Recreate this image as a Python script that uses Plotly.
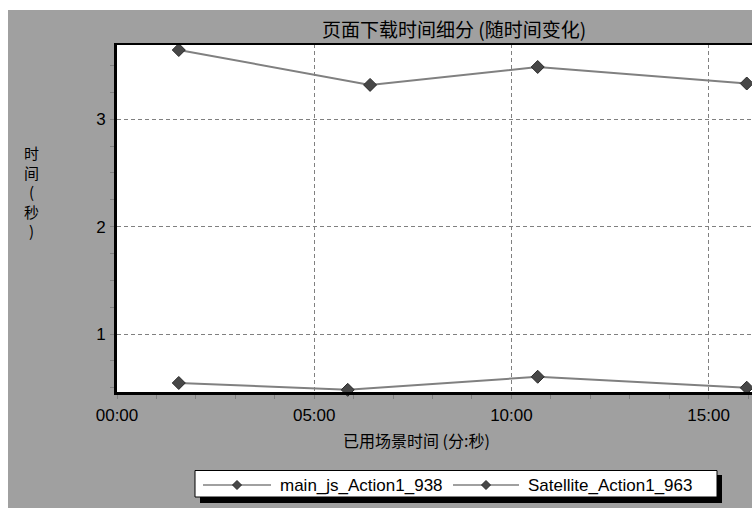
import plotly.graph_objects as go

# ---- data (time in seconds since scenario start, value in seconds) ----
series_names = ["main_js_Action1_938", "Satellite_Action1_963"]
main_js_time = [94, 385, 640, 958]
main_js_value = [3.645, 3.32, 3.487, 3.333]
satellite_time = [94, 351, 640, 958]
satellite_value = [0.544, 0.48, 0.602, 0.50]
x_tick_vals = [0, 300, 600, 900]
x_tick_text = ["00:00", "05:00", "10:00", "15:00"]
y_tick_vals = [1, 2, 3]

title_text = "页面下载时间细分 (随时间变化)"
x_title_text = "已用场景时间 (分:秒)"
y_title_text = "时<br>间<br>(<br>秒<br>)"

# figure placed at the page origin (body margin removed below)
W, H = 752, 508
L, R, T, B = 117, 752, 44, 392
BG = "#A0A0A0"
LINE = "#808080"
MARK = "#474747"
FONT = "Liberation Sans, Arial, sans-serif"
CJK = "Noto Sans CJK SC, sans-serif"


def px(x):
    """page x pixel -> paper fraction"""
    return (x - L) / (R - L)


def py(y):
    """page y pixel -> paper fraction"""
    return (B - y) / (B - T)


fig = go.Figure()
for name, xs, ys in [(series_names[0], main_js_time, main_js_value),
                     (series_names[1], satellite_time, satellite_value)]:
    fig.add_trace(go.Scatter(
        x=xs, y=ys, name=name, mode="lines+markers",
        line=dict(color=LINE, width=2),
        marker=dict(symbol="diamond", size=10, color=MARK,
                    line=dict(color="#2a2a2a", width=1)),
        showlegend=False, cliponaxis=False))

shapes = []
# white strips at top and left edge of the picture
shapes.append(dict(type="rect", xref="paper", yref="paper", x0=px(-5), x1=px(760),
                   y0=py(10), y1=py(-5), fillcolor="white", line_width=0, layer="below"))
shapes.append(dict(type="rect", xref="paper", yref="paper", x0=px(-5), x1=px(8),
                   y0=py(515), y1=py(-5), fillcolor="white", line_width=0, layer="below"))
# top border of plot area
shapes.append(dict(type="line", xref="paper", yref="paper", x0=px(114), x1=1,
                   y0=1, y1=1, line=dict(color="black", width=2)))

# manual legend: shadow, box, line samples, markers
shapes.append(dict(type="rect", xref="paper", yref="paper", x0=px(200), x1=px(722),
                   y0=py(503), y1=py(475), fillcolor="black", line_width=0))
shapes.append(dict(type="rect", xref="paper", yref="paper", x0=px(195), x1=px(717),
                   y0=py(497), y1=py(470.5), fillcolor="white",
                   line=dict(color="black", width=1)))
legend_items = [(203, 271, 237, 278), (453, 519, 486, 526)]
annotations = []
for (lx0, lx1, mx, tx), name in zip(legend_items, series_names):
    shapes.append(dict(type="line", xref="paper", yref="paper", x0=px(lx0), x1=px(lx1),
                       y0=py(485), y1=py(485), line=dict(color=LINE, width=1.5)))
    shapes.append(dict(type="path", xref="paper", yref="paper",
                       xsizemode="pixel", ysizemode="pixel",
                       xanchor=px(mx), yanchor=py(485),
                       path="M -4.5 0 L 0 4.5 L 4.5 0 L 0 -4.5 Z",
                       fillcolor=MARK, line=dict(color="#2a2a2a", width=1)))
    annotations.append(dict(text=name, xref="paper", yref="paper", x=px(tx), y=py(485),
                            xanchor="left", yanchor="middle", showarrow=False,
                            font=dict(family=FONT, size=17, color="black")))

# title
annotations.append(dict(text=title_text, xref="paper", yref="paper", x=px(454), y=py(28),
                        xanchor="center", yanchor="middle", showarrow=False,
                        font=dict(family=CJK, size=19, color="black")))
# x axis title
annotations.append(dict(text=x_title_text, xref="paper", yref="paper", x=px(416), y=py(440),
                        xanchor="center", yanchor="middle", showarrow=False,
                        font=dict(family=CJK, size=16, color="black")))
# y axis title (vertical, stacked characters)
annotations.append(dict(text=y_title_text, xref="paper", yref="paper", x=px(31), y=py(191),
                        xanchor="center", yanchor="middle", showarrow=False,
                        font=dict(family=CJK, size=15, color="black")))

fig.update_layout(
    width=W, height=H,
    margin=dict(l=L, r=W - R, t=T, b=H - B, pad=0),
    paper_bgcolor=BG, plot_bgcolor="white",
    shapes=shapes, annotations=annotations,
    showlegend=False,
    xaxis=dict(range=[0, 966], tickmode="array", tickvals=x_tick_vals, ticktext=x_tick_text,
               showline=True, linecolor="black", linewidth=3,
               ticks="outside", ticklen=4, tickcolor=LINE, tickwidth=1,
               ticklabelstandoff=2,
               showgrid=True, gridcolor=LINE, griddash="4px,3px", gridwidth=1,
               zeroline=False,
               tickfont=dict(family=FONT, size=17, color="black"),
               minor=dict(tickmode="linear", tick0=0, dtick=60, ticks="outside",
                          ticklen=4, tickcolor=LINE, showgrid=False)),
    yaxis=dict(range=[0.46, 3.701], tickmode="array", tickvals=y_tick_vals,
               showline=True, linecolor="black", linewidth=3,
               ticks="outside", ticklen=4, tickcolor=LINE, tickwidth=1,
               ticklabelstandoff=1,
               showgrid=True, gridcolor=LINE, griddash="4px,3px", gridwidth=1,
               zeroline=False,
               tickfont=dict(family=FONT, size=17, color="black"),
               minor=dict(tickmode="linear", tick0=0, dtick=0.25, ticks="outside",
                          ticklen=4, tickcolor=LINE, showgrid=False)),
)

# place the fixed-size figure at the page origin, with no scrollbars or modebar
fig.write_html("out.html",
               config={"displayModeBar": False},
               post_script="document.body.style.margin='0';"
                           "document.documentElement.style.overflow='hidden';"
                           "document.body.style.overflow='hidden';")
